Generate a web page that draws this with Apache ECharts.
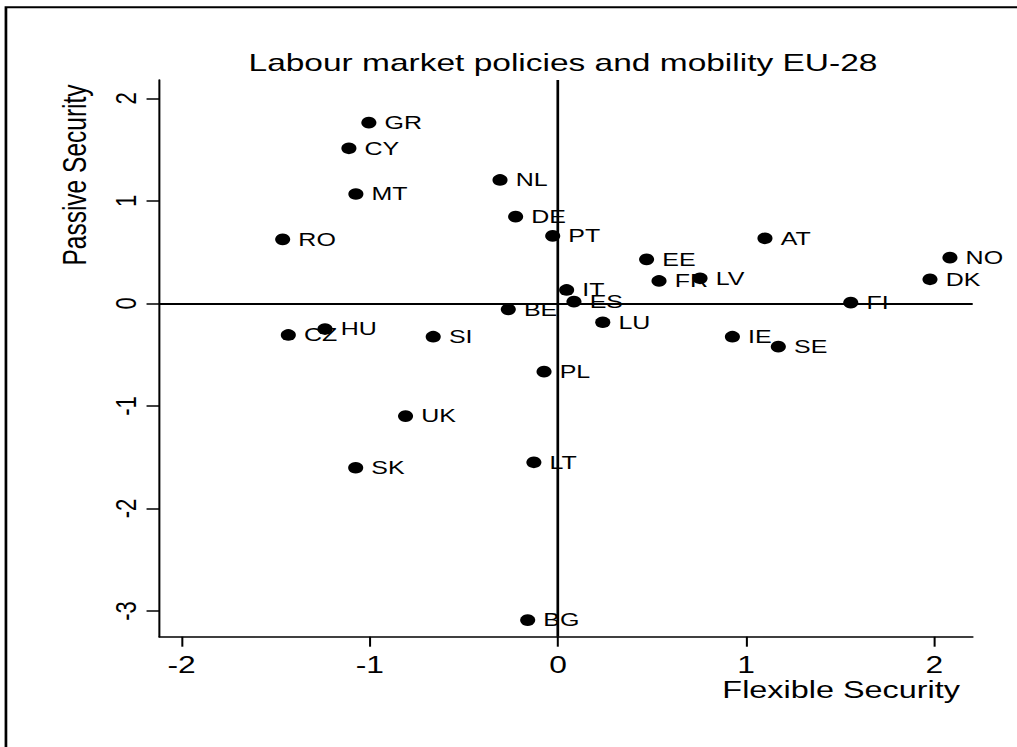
<!DOCTYPE html>
<html>
<head>
<meta charset="utf-8">
<script src="https://cdn.jsdelivr.net/npm/echarts@6/dist/echarts.min.js"></script>
<style>
  html, body { margin: 0; padding: 0; background: #fff; overflow: hidden; }
  #wrap { width: 1017px; height: 747px; overflow: hidden; }
  /* the reference is drawn with wide lettering: render narrow, then stretch horizontally */
  #chart { width: 753px; height: 747px; transform: scaleX(1.3506); transform-origin: 0 0; }
</style>
</head>
<body>
<div id="wrap"><div id="chart"></div></div>
<script>
// country codes and their scores
var countries = ['GR', 'CY', 'MT', 'NL', 'DE', 'RO', 'PT', 'EE', 'FR', 'LV', 'IT', 'ES', 'BE', 'LU',
  'IE', 'SE', 'AT', 'NO', 'DK', 'FI', 'CZ', 'HU', 'SI', 'PL', 'UK', 'LT', 'SK', 'BG'];
var flexible = [-1.005, -1.111, -1.074, -0.308, -0.225, -1.463, -0.028, 0.471, 0.537, 0.755, 0.046, 0.085, -0.264, 0.238,
  0.927, 1.171, 1.100, 2.083, 1.977, 1.556, -1.433, -1.238, -0.663, -0.074, -0.810, -0.128, -1.075, -0.161];
var passive = [1.764, 1.514, 1.068, 1.205, 0.847, 0.626, 0.659, 0.431, 0.220, 0.246, 0.132, 0.018, -0.057, -0.183,
  -0.324, -0.421, 0.636, 0.447, 0.236, 0.008, -0.307, -0.249, -0.324, -0.665, -1.098, -1.549, -1.602, -3.088];

var xTicks = [-2, -1, 0, 1, 2];
var yTicks = [-3, -2, -1, 0, 1, 2];

var font = 'Liberation Sans, Arial, Helvetica, sans-serif';

var points = countries.map(function (c, i) {
  return { name: c, value: [flexible[i], passive[i]] };
});

var myChart = echarts.init(document.getElementById('chart'), null, { renderer: 'svg' });

var option = {
  animation: false,
  backgroundColor: '#fff',
  textStyle: { fontFamily: font, color: '#000' },
  title: {
    text: 'Labour market policies and mobility EU-28',
    left: 184,
    top: 50,
    padding: 0,
    textStyle: { fontFamily: font, fontSize: 24.8, fontWeight: 'normal', color: '#000' }
  },
  graphic: [
    {
      type: 'rect',
      shape: { x: 4.4, y: 7.3, width: 2000, height: 2000 },
      style: { fill: 'none', stroke: '#000', lineWidth: 2 },
      silent: true
    },
    {
      // y axis title, rotated
      type: 'text',
      x: 55.5,
      y: 175,
      rotation: Math.PI / 2,
      style: {
        text: 'Passive Security',
        font: '24.5px ' + font,
        fill: '#000',
        textAlign: 'center',
        textVerticalAlign: 'middle'
      },
      silent: true
    },
    {
      // x axis title, right-aligned under the axis end
      type: 'text',
      x: 710.8,
      y: 690,
      style: {
        text: 'Flexible Security',
        font: '24px ' + font,
        fill: '#000',
        textAlign: 'right',
        textVerticalAlign: 'middle'
      },
      silent: true
    }
  ],
  grid: { left: 117.9, right: 32.8, top: 80, bottom: 110.3, containLabel: false },
  xAxis: {
    type: 'value',
    min: -2.119,
    max: 2.204,
    splitLine: { show: false },
    axisLine: { show: true, onZero: false, lineStyle: { color: '#000', width: 1.5 } },
    axisTick: { show: true, length: 10, customValues: xTicks, lineStyle: { color: '#000', width: 1.5 } },
    axisLabel: { customValues: xTicks, fontSize: 23.5, color: '#000', fontFamily: font, margin: 16 }
  },
  yAxis: {
    type: 'value',
    min: -3.25,
    max: 2.18,
    splitLine: { show: false },
    axisLine: { show: true, onZero: false, lineStyle: { color: '#000', width: 1.5 } },
    axisTick: { show: true, length: 9.4, customValues: yTicks, lineStyle: { color: '#000', width: 1.5 } },
    axisLabel: { customValues: yTicks, rotate: 90, fontSize: 22, color: '#000', fontFamily: font, margin: 14 }
  },
  series: [
    {
      type: 'scatter',
      data: points,
      symbol: 'circle',
      symbolSize: [11.2, 11.7],
      itemStyle: { color: '#000', opacity: 1 },
      label: {
        show: true,
        position: 'right',
        distance: 6,
        formatter: '{b}',
        fontFamily: font,
        fontSize: 18.5,
        color: '#000',
        opacity: 1
      },
      markLine: {
        silent: true,
        symbol: ['none', 'none'],
        label: { show: false },
        lineStyle: { color: '#000', width: 2, type: 'solid', opacity: 1 },
        data: [{ xAxis: 0 }, { yAxis: 0 }]
      }
    }
  ]
};

myChart.setOption(option);
</script>
</body>
</html>
